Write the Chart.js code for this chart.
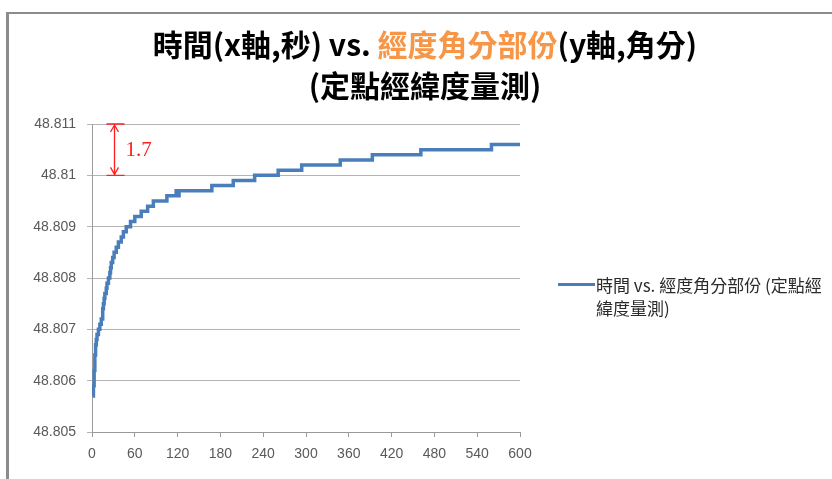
<!DOCTYPE html>
<html>
<head>
<meta charset="utf-8">
<script src="https://cdn.jsdelivr.net/npm/chart.js@4/dist/chart.umd.min.js"></script>
<style>
  html, body { margin: 0; padding: 0; background: #fff; overflow: hidden; }
  #wrap { position: relative; width: 832px; height: 479px; overflow: hidden; }
  #frame { position: absolute; left: 6px; top: 12px; width: 900px; height: 600px;
           border-left: 3px solid #8c8c8c; border-top: 2px solid #8c8c8c; }
  #title { position: absolute; left: 0; top: 23px; width: 850px; text-align: center;
           font-family: 'Noto Sans CJK TC', 'Noto Sans', sans-serif; font-weight: bold;
           font-size: 30px; line-height: 41px; color: #000; }
  #title .hl { color: #F79646; }
  #legend { position: absolute; left: 558px; top: 273px;
            font-family: 'Noto Sans CJK TC', 'Noto Sans', sans-serif; font-size: 17px;
            line-height: 23px; color: #2b2b2b; }
  #legend .swatch { position: absolute; left: 0; top: 10px; width: 37px; height: 3px; background: #4A7EBB; }
  #legend .txt { margin-left: 38px; white-space: nowrap; }
  canvas { position: absolute; left: 0; top: 0; }
</style>
</head>
<body>
<div id="wrap">
  <div id="frame"></div>
  <canvas id="chart" width="832" height="479"></canvas>
  <div id="title">時間(x軸,秒) vs. <span class="hl">經度角分部份</span>(y軸,角分)<br>(定點經緯度量測)</div>
  <div id="legend"><div class="swatch"></div><div class="txt">時間 vs. 經度角分部份 (定點經<br>緯度量測)</div></div>
</div>
<script>
//時間(秒) - 數值改變的時刻
const timeSec = [1, 2, 3, 4, 5, 6, 7, 9, 11, 13,
                 15, 16, 17, 18, 20, 21, 23, 25, 26, 27,
                 29, 31, 34, 37, 41, 44, 48, 54, 60, 69,
                 78, 86, 105, 118, 120, 122, 168, 198, 228, 261,
                 294, 348, 393, 461, 560, 600];
//經度角分部份
const lonMinutes = [48.8057, 48.8059, 48.8062, 48.8065, 48.8067, 48.8068, 48.8069, 48.8070, 48.8071, 48.8072,
                    48.8074, 48.8075, 48.8076, 48.8077, 48.8078, 48.8079, 48.8080, 48.8081, 48.8082, 48.8083,
                    48.8084, 48.8085, 48.8086, 48.8087, 48.8088, 48.8089, 48.8090, 48.8091, 48.8092, 48.8093,
                    48.8094, 48.8095, 48.8096, 48.8097, 48.8096, 48.8097, 48.8098, 48.8099, 48.8100, 48.8101,
                    48.8102, 48.8103, 48.8104, 48.8105, 48.8106, 48.8106];

const xTickValues = [0, 60, 120, 180, 240, 300, 360, 420, 480, 540, 600];
const yTickValues = [48.805, 48.806, 48.807, 48.808, 48.809, 48.810, 48.811];
const yTickLabels = ['48.805', '48.806', '48.807', '48.808', '48.809', '48.81', '48.811'];

//紅色標註 1.7
const bracketTime = 31;
const bracketRange = [48.810, 48.811];
const bracketText = '1.7';

const bracketPlugin = {
    id: 'bracket',
    afterDatasetsDraw(chart) {
        const { ctx, scales: { x, y } } = chart;
        const px = Math.round(x.getPixelForValue(bracketTime)) + 0.5;
        const yTop = y.getPixelForValue(bracketRange[1]);
        const yBot = y.getPixelForValue(bracketRange[0]);
        ctx.save();
        ctx.strokeStyle = '#ff2020';
        ctx.lineWidth = 1.3;
        ctx.beginPath();
        ctx.moveTo(px - 8, yTop); ctx.lineTo(px + 10, yTop);
        ctx.moveTo(px - 8, yBot); ctx.lineTo(px + 10, yBot);
        ctx.moveTo(px, yTop + 1); ctx.lineTo(px, yBot - 1);
        ctx.moveTo(px - 4, yTop + 8); ctx.lineTo(px, yTop + 1); ctx.lineTo(px + 4, yTop + 8);
        ctx.moveTo(px - 4, yBot - 8); ctx.lineTo(px, yBot - 1); ctx.lineTo(px + 4, yBot - 8);
        ctx.stroke();
        ctx.fillStyle = '#ff2020';
        ctx.font = '21px "Liberation Serif", serif';
        ctx.textBaseline = 'middle';
        ctx.fillText(bracketText, px + 11, (yTop + yBot) / 2 + 1);
        ctx.restore();
    }
};

const ctx = document.getElementById('chart').getContext('2d');
new Chart(ctx, {
    type: 'line',
    data: {
        datasets: [{
            label: '時間 vs. 經度角分部份 (定點經緯度量測)',
            data: timeSec.map((t, i) => ({ x: t, y: lonMinutes[i] })),
            borderColor: '#4A7EBB',
            borderWidth: 3.5,
            pointRadius: 0,
            stepped: 'before',
            fill: false
        }]
    },
    options: {
        responsive: false,
        animation: false,
        layout: { padding: { left: 0, top: 124, right: 312, bottom: 0 } },
        plugins: {
            legend: { display: false },
            tooltip: { enabled: false }
        },
        scales: {
            x: {
                type: 'linear',
                min: 0,
                max: 600,
                afterBuildTicks: axis => { axis.ticks = xTickValues.map(v => ({ value: v })); },
                afterFit: axis => { axis.height = 47; },
                grid: { drawOnChartArea: false, drawTicks: true, tickLength: 5, color: '#9a9a9a' },
                border: { color: '#9a9a9a', width: 1 },
                ticks: {
                    color: '#595959',
                    padding: 9,
                    maxRotation: 0,
                    autoSkip: false,
                    font: { family: 'Liberation Sans', size: 14 }
                }
            },
            y: {
                min: 48.805,
                max: 48.811,
                afterBuildTicks: axis => { axis.ticks = yTickValues.map(v => ({ value: v })); },
                afterFit: axis => { axis.width = 92; },
                grid: { color: '#b4b4b4', drawTicks: true, tickLength: 5 },
                border: { color: '#9a9a9a', width: 1 },
                ticks: {
                    color: '#595959',
                    padding: 11,
                    autoSkip: false,
                    callback: (v, i) => yTickLabels[i],
                    font: { family: 'Liberation Sans', size: 14 }
                }
            }
        }
    },
    plugins: [bracketPlugin]
});
</script>
</body>
</html>
